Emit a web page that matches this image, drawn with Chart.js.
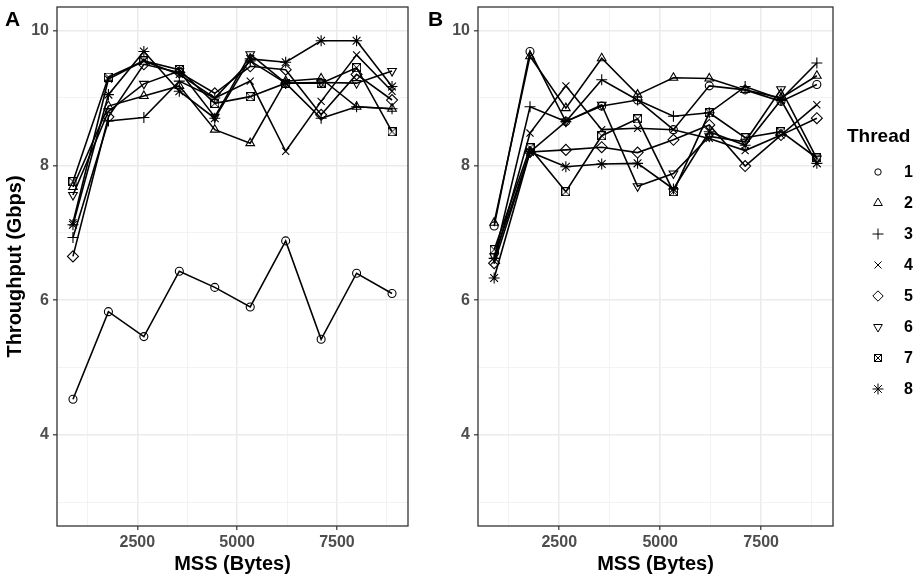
<!DOCTYPE html>
<html>
<head>
<meta charset="utf-8">
<script src="https://cdn.jsdelivr.net/npm/chart.js@4.4.1/dist/chart.umd.min.js"></script>
<style>
  html, body { margin: 0; padding: 0; background: #fff; }
  body { width: 920px; height: 579px; position: relative; overflow: hidden; font-family: "Liberation Sans", Arial, sans-serif; }
  #wa { position: absolute; left: 0; top: 0; width: 420px; height: 579px; }
  #wb { position: absolute; left: 420px; top: 0; width: 500px; height: 579px; }
  .tag { position: absolute; font-weight: bold; font-size: 21px; color: #000; line-height: 1; }
</style>
</head>
<body>
<div id="wa"><canvas id="ca"></canvas></div>
<div id="wb"><canvas id="cb"></canvas></div>
<div class="tag" style="left:5px; top:8px;">A</div>
<div class="tag" style="left:428px; top:8px;">B</div>
<script>
// ---------------- data ----------------
const mssBytes = [888, 1776, 2664, 3552, 4440, 5328, 6216, 7104, 7992, 8880];
const threadLabels = ['1', '2', '3', '4', '5', '6', '7', '8'];
const xTickValues = [1250, 2500, 3750, 5000, 6250, 7500, 8750];
const yTickValues = [3, 4, 5, 6, 7, 8, 9, 10];

// Panel A
const aThread1 = [4.53, 5.83, 5.46, 6.43, 6.19, 5.90, 6.88, 5.42, 6.40, 6.10];
const aThread2 = [7.68, 8.88, 9.03, 9.18, 8.53, 8.33, 9.25, 9.29, 8.87, 8.84];
const aThread3 = [6.93, 8.66, 8.71, 9.25, 9.00, 9.55, 9.22, 8.70, 8.87, 8.84];
const aThread4 = [7.15, 9.28, 9.55, 9.35, 9.00, 9.25, 8.21, 8.95, 9.64, 9.10];
const aThread5 = [6.65, 8.72, 9.50, 9.38, 9.07, 9.47, 9.42, 8.75, 9.35, 8.97];
const aThread6 = [7.56, 8.80, 9.21, 9.40, 8.72, 9.65, 9.22, 9.23, 9.22, 9.40];
const aThread7 = [7.76, 9.31, 9.55, 9.42, 8.92, 9.02, 9.22, 9.22, 9.45, 8.50];
const aThread8 = [7.12, 9.05, 9.69, 9.10, 8.70, 9.58, 9.53, 9.85, 9.85, 9.17];

// Panel B
const bThread1 = [7.10, 9.69, 8.65, 8.88, 8.97, 8.53, 9.18, 9.12, 8.95, 9.20];
const bThread2 = [7.15, 9.62, 8.85, 9.59, 9.05, 9.30, 9.29, 9.12, 9.00, 9.33];
const bThread3 = [6.62, 8.87, 8.65, 9.27, 8.97, 8.73, 8.78, 9.17, 8.98, 9.52];
const bThread4 = [6.58, 8.48, 9.18, 8.53, 8.55, 8.53, 8.40, 8.22, 8.45, 8.90];
const bThread5 = [6.55, 8.20, 8.23, 8.27, 8.19, 8.38, 8.60, 7.99, 8.45, 8.70];
const bThread6 = [6.65, 8.20, 8.65, 8.90, 7.69, 7.88, 8.43, 8.35, 9.13, 8.10];
const bThread7 = [6.75, 8.26, 7.61, 8.44, 8.69, 7.61, 8.78, 8.41, 8.50, 8.11];
const bThread8 = [6.33, 8.20, 7.98, 8.02, 8.03, 7.65, 8.50, 8.30, 8.97, 8.03];

const panelA = [aThread1, aThread2, aThread3, aThread4, aThread5, aThread6, aThread7, aThread8];
const panelB = [bThread1, bThread2, bThread3, bThread4, bThread5, bThread6, bThread7, bThread8];

// ---------------- styles ----------------
function squareCross(size) {
  const c = document.createElement('canvas');
  c.width = size; c.height = size;
  const g = c.getContext('2d');
  g.strokeStyle = '#000'; g.lineWidth = 1;
  g.strokeRect(0.5, 0.5, size - 1, size - 1);
  g.beginPath();
  g.moveTo(0.5, 0.5); g.lineTo(size - 0.5, size - 0.5);
  g.moveTo(size - 0.5, 0.5); g.lineTo(0.5, size - 0.5);
  g.stroke();
  return c;
}
const sqX = squareCross(9);
const sqXLegend = squareCross(8);
const shapes = [
  { style: 'circle', rot: 0, r: 4, lr: 3.2 },
  { style: 'triangle', rot: 0, r: 5, lr: 5 },
  { style: 'cross', rot: 0, r: 5.5, lr: 5.5 },
  { style: 'crossRot', rot: 0, r: 5, lr: 5 },
  { style: 'rectRot', rot: 0, r: 5.5, lr: 5.2 },
  { style: 'triangle', rot: 180, r: 5, lr: 5 },
  { style: sqX, rot: 0, r: 4.5, lr: 4 },
  { style: 'star', rot: 0, r: 5.5, lr: 5.5 }
];

function makeDatasets(series) {
  return series.map((vals, i) => ({
    label: threadLabels[i],
    data: vals.map((v, j) => ({ x: mssBytes[j], y: v })),
    borderColor: '#000',
    borderWidth: 1.6,
    backgroundColor: 'rgba(0,0,0,0)',
    pointStyle: shapes[i].style,
    pointRotation: shapes[i].rot,
    pointRadius: shapes[i].r,
    pointBorderColor: '#000',
    pointBackgroundColor: 'rgba(0,0,0,0)',
    pointBorderWidth: 1.1,
    tension: 0,
    fill: false
  }));
}

const borderPlugin = {
  id: 'panelBorder',
  afterDraw(chart) {
    const { ctx, chartArea: a } = chart;
    ctx.save();
    ctx.strokeStyle = '#333333';
    ctx.lineWidth = 1.3;
    ctx.strokeRect(a.left, a.top, a.right - a.left, a.bottom - a.top);
    ctx.restore();
  }
};

// legend for panel B, drawn in the chart canvas from the dataset styles
const threadLegend = {
  id: 'threadLegend',
  afterDraw(chart) {
    const ctx = chart.ctx;
    const x0 = chart.chartArea.right + 14;   // left edge of legend block
    ctx.save();
    ctx.fillStyle = '#000';
    ctx.textBaseline = 'middle';
    ctx.textAlign = 'left';
    ctx.font = 'bold 19px "Liberation Sans"';
    ctx.fillText('Thread', x0, 137);
    ctx.font = 'bold 16px "Liberation Sans"';
    chart.data.datasets.forEach((ds, i) => {
      const y = 172 + 31 * i;
      const st = {
        pointStyle: ds.pointStyle === sqX ? sqXLegend : ds.pointStyle,
        rotation: ds.pointRotation,
        radius: shapes[i].lr,
        borderWidth: 1
      };
      ctx.strokeStyle = '#000';
      ctx.fillStyle = 'rgba(0,0,0,0)';
      ctx.lineWidth = 1;
      Chart.helpers.drawPoint(ctx, st, x0 + 31, y);
      ctx.fillStyle = '#000';
      ctx.fillText(ds.label, x0 + 57, y + 1);
    });
    ctx.restore();
  }
};

function scales(yTitle, yWidth) {
  return {
    x: {
      type: 'linear', min: 488, max: 9280,
      afterBuildTicks: (s) => { s.ticks = xTickValues.map(v => ({ value: v })); },
      afterFit: (s) => { s.height = 53; s.paddingLeft = 0; s.paddingRight = 0; },
      ticks: {
        autoSkip: false, maxRotation: 0, padding: 3,
        color: '#4d4d4d',
        font: { family: 'Liberation Sans', size: 16, weight: 'bold' },
        callback: (v) => (v % 2500 === 0 ? String(v) : '')
      },
      grid: {
        color: (c) => (c.tick && c.tick.value % 2500 === 0 ? '#ebebeb' : '#f2f2f2'),
        lineWidth: (c) => (c.tick && c.tick.value % 2500 === 0 ? 1.6 : 0.9),
        tickColor: (c) => (c.tick && c.tick.value % 2500 === 0 ? '#333333' : 'rgba(0,0,0,0)'),
        tickLength: 4, tickWidth: 1.2, drawTicks: true
      },
      border: { display: false },
      title: {
        display: true, text: 'MSS (Bytes)', color: '#000',
        font: { family: 'Liberation Sans', size: 20, weight: 'bold' },
        padding: { top: 4, bottom: 3 }
      }
    },
    y: {
      type: 'linear', min: 2.65, max: 10.35,
      afterBuildTicks: (s) => { s.ticks = yTickValues.map(v => ({ value: v })); },
      afterFit: (s) => { s.width = yWidth; s.paddingTop = 0; s.paddingBottom = 0; },
      ticks: {
        autoSkip: false, padding: 4,
        color: '#4d4d4d',
        font: { family: 'Liberation Sans', size: 16, weight: 'bold' },
        callback: (v) => (v % 2 === 0 ? String(v) : '')
      },
      grid: {
        color: (c) => (c.tick && c.tick.value % 2 === 0 ? '#ebebeb' : '#f2f2f2'),
        lineWidth: (c) => (c.tick && c.tick.value % 2 === 0 ? 1.6 : 0.9),
        tickColor: (c) => (c.tick && c.tick.value % 2 === 0 ? '#333333' : 'rgba(0,0,0,0)'),
        tickLength: 4, tickWidth: 1.2, drawTicks: true
      },
      border: { display: false },
      title: {
        display: !!yTitle, text: yTitle || '', color: '#000',
        font: { family: 'Liberation Sans', size: 20, weight: 'bold' },
        padding: { top: 3, bottom: 4 }
      }
    }
  };
}

Chart.defaults.font.family = 'Liberation Sans';

new Chart(document.getElementById('ca'), {
  type: 'line',
  data: { datasets: makeDatasets(panelA) },
  options: {
    responsive: true, maintainAspectRatio: false, animation: false,
    layout: { padding: { top: 7, right: 12, left: 0, bottom: 0 } },
    plugins: { legend: { display: false }, tooltip: { enabled: false } },
    scales: scales('Throughput (Gbps)', 57)
  },
  plugins: [borderPlugin]
});

new Chart(document.getElementById('cb'), {
  type: 'line',
  data: { datasets: makeDatasets(panelB) },
  options: {
    responsive: true, maintainAspectRatio: false, animation: false,
    layout: { padding: { top: 7, right: 87, left: 0, bottom: 0 } },
    plugins: { legend: { display: false }, tooltip: { enabled: false } },
    scales: scales(null, 58)
  },
  plugins: [borderPlugin, threadLegend]
});
</script>
</body>
</html>
